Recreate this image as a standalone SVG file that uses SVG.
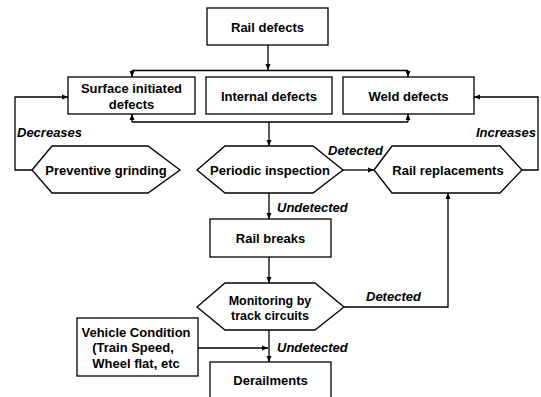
<svg xmlns="http://www.w3.org/2000/svg" width="541" height="397" viewBox="0 0 541 397">
<style>
.box{fill:#fff;stroke:#000;stroke-width:1.3}
.t{font-family:"Liberation Sans",Arial,sans-serif;font-weight:bold;font-size:13px;fill:#000;text-anchor:middle}
.s{font-size:12.5px}
.l{font-family:"Liberation Sans",Arial,sans-serif;font-weight:bold;font-style:italic;font-size:13px;fill:#000}
.c{fill:none;stroke:#000;stroke-width:1.3}
</style>
<defs>
<marker id="a" markerUnits="userSpaceOnUse" markerWidth="7" markerHeight="6" refX="6" refY="3" orient="auto">
<path d="M0,0.5 L6,3 L0,5.5 Z" fill="#000"/>
</marker>
</defs>
<rect width="541" height="397" fill="#fff"/>
<g id="connectors">
<path class="c" d="M268,45 V70" marker-end="url(#a)"/>
<path class="c" d="M132,70.5 H408"/>
<path class="c" d="M132,70.5 V77" marker-end="url(#a)"/>
<path class="c" d="M408,70.5 V77" marker-end="url(#a)"/>
<path class="c" d="M132,122 H408"/>
<path class="c" d="M132,122 V114" marker-end="url(#a)"/>
<path class="c" d="M408,122 V114" marker-end="url(#a)"/>
<path class="c" d="M269,122 V146" marker-end="url(#a)"/>
<path class="c" d="M343,170 H374" marker-end="url(#a)"/>
<path class="c" d="M269,193 V219" marker-end="url(#a)"/>
<path class="c" d="M269,257 V283" marker-end="url(#a)"/>
<path class="c" d="M344,307 H448 V193" marker-end="url(#a)"/>
<path class="c" d="M269,330 V362" marker-end="url(#a)"/>
<path class="c" d="M198,348 H268" marker-end="url(#a)"/>
<path class="c" d="M32,170 H15 V97 H68" marker-end="url(#a)"/>
<path class="c" d="M522,170 H538 V97 H474" marker-end="url(#a)"/>
<text class="l" x="17" y="137">Decreases</text>
<text class="l" x="476" y="137">Increases</text>
<text class="l" x="328" y="155">Detected</text>
<text class="l" x="277" y="212">Undetected</text>
<text class="l" x="366" y="301">Detected</text>
<text class="l" x="277" y="352">Undetected</text>
</g>
<g id="rail-defects">
<rect class="box" x="207" y="8" width="121" height="37"/>
<text class="t" x="267.5" y="32">Rail defects</text>
</g>
<g id="surface-defects">
<rect class="box" x="68" y="77" width="127" height="37"/>
<text class="t" x="131.5" y="93">Surface initiated</text>
<text class="t" x="131.5" y="109">defects</text>
</g>
<g id="internal-defects">
<rect class="box" x="206" y="77" width="126" height="37"/>
<text class="t" x="269" y="101">Internal defects</text>
</g>
<g id="weld-defects">
<rect class="box" x="343" y="77" width="131" height="37"/>
<text class="t" x="408.5" y="101">Weld defects</text>
</g>
<g id="preventive-grinding">
<polygon class="box" points="32,170 52,146 148,146 180,170 148,193 52,193"/>
<text class="t" x="106" y="175">Preventive grinding</text>
</g>
<g id="periodic-inspection">
<polygon class="box" points="197,170 225,146 313,146 343,170 313,193 225,193"/>
<text class="t" x="270" y="175">Periodic inspection</text>
</g>
<g id="rail-replacements">
<polygon class="box" points="374,170 392,146 500,146 522,170 500,193 392,193"/>
<text class="t" x="448" y="175">Rail replacements</text>
</g>
<g id="rail-breaks">
<rect class="box" x="210" y="219" width="121" height="38"/>
<text class="t" x="270.5" y="243">Rail breaks</text>
</g>
<g id="monitoring">
<polygon class="box" points="197,307 225,283 315,283 344,307 315,330 225,330"/>
<text class="t s" x="270" y="305">Monitoring by</text>
<text class="t s" x="270" y="319.5">track circuits</text>
</g>
<g id="vehicle-condition">
<rect class="box" x="77" y="318" width="121" height="58"/>
<text class="t" x="136" y="337">Vehicle Condition</text>
<text class="t" x="133" y="352">(Train Speed,</text>
<text class="t" x="136" y="368">Wheel flat, etc</text>
</g>
<g id="derailments">
<rect class="box" x="210" y="362" width="121" height="40"/>
<text class="t" x="270.5" y="385">Derailments</text>
</g>
</svg>
